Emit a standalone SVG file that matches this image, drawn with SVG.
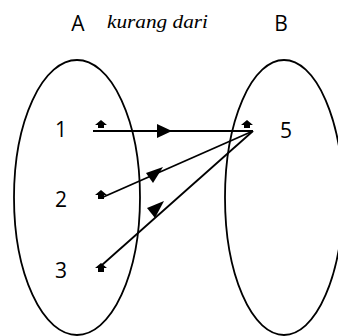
<svg xmlns="http://www.w3.org/2000/svg" width="338" height="336" viewBox="0 0 338 336">
<style>
.set{fill:none;stroke:#000;stroke-width:1.8}
.lbl{font-family:"Open Sans","Liberation Sans",sans-serif;fill:#000;font-size:21px;text-anchor:middle}
.ln{stroke:#000;stroke-width:1.8;fill:none}
.ah{fill:#000}
</style>
<rect width="338" height="336" fill="#fff"/>
<g id="setA"><ellipse class="set" cx="77" cy="197.5" rx="63" ry="137.5"/><text class="lbl" x="78" y="31">A</text></g>
<g id="setB"><ellipse class="set" cx="284" cy="197.5" rx="59" ry="137.5"/><text class="lbl" x="281" y="31">B</text></g>
<text x="107" y="28" font-family="'Liberation Serif',serif" font-style="italic" font-size="18" textLength="101" lengthAdjust="spacingAndGlyphs">kurang dari</text>
<g id="n1"><text class="lbl" x="61" y="137">1</text><path class="ah" d="M101,120 L107,125 L104,125 L104,128 L98,128 L98,125 L95,125 Z"/></g>
<g id="n2"><text class="lbl" x="61" y="207">2</text><path class="ah" d="M101,190 L107,195 L104,195 L104,199 L98,199 L98,195 L95,195 Z"/></g>
<g id="n3"><text class="lbl" x="61" y="278">3</text><path class="ah" d="M101,263 L107,268 L104,268 L104,272 L98,272 L98,268 L95,268 Z"/></g>
<g id="n5"><text class="lbl" x="286" y="138">5</text><path class="ah" d="M247,120 L253,125 L250,125 L250,128 L244,128 L244,125 L241,125 Z"/></g>
<g id="connectors">
<line class="ln" x1="93" y1="131" x2="253" y2="131"/>
<path class="ah" d="M172,131 L157,124 L157,138 Z"/>
<line class="ln" x1="253" y1="131" x2="101" y2="198"/>
<path class="ah" d="M163,167 L146,173 L153,183 Z"/>
<line class="ln" x1="253" y1="131" x2="102" y2="265"/>
<path class="ah" d="M164,201 L147,208 L155,218 Z"/>
</g>
</svg>
